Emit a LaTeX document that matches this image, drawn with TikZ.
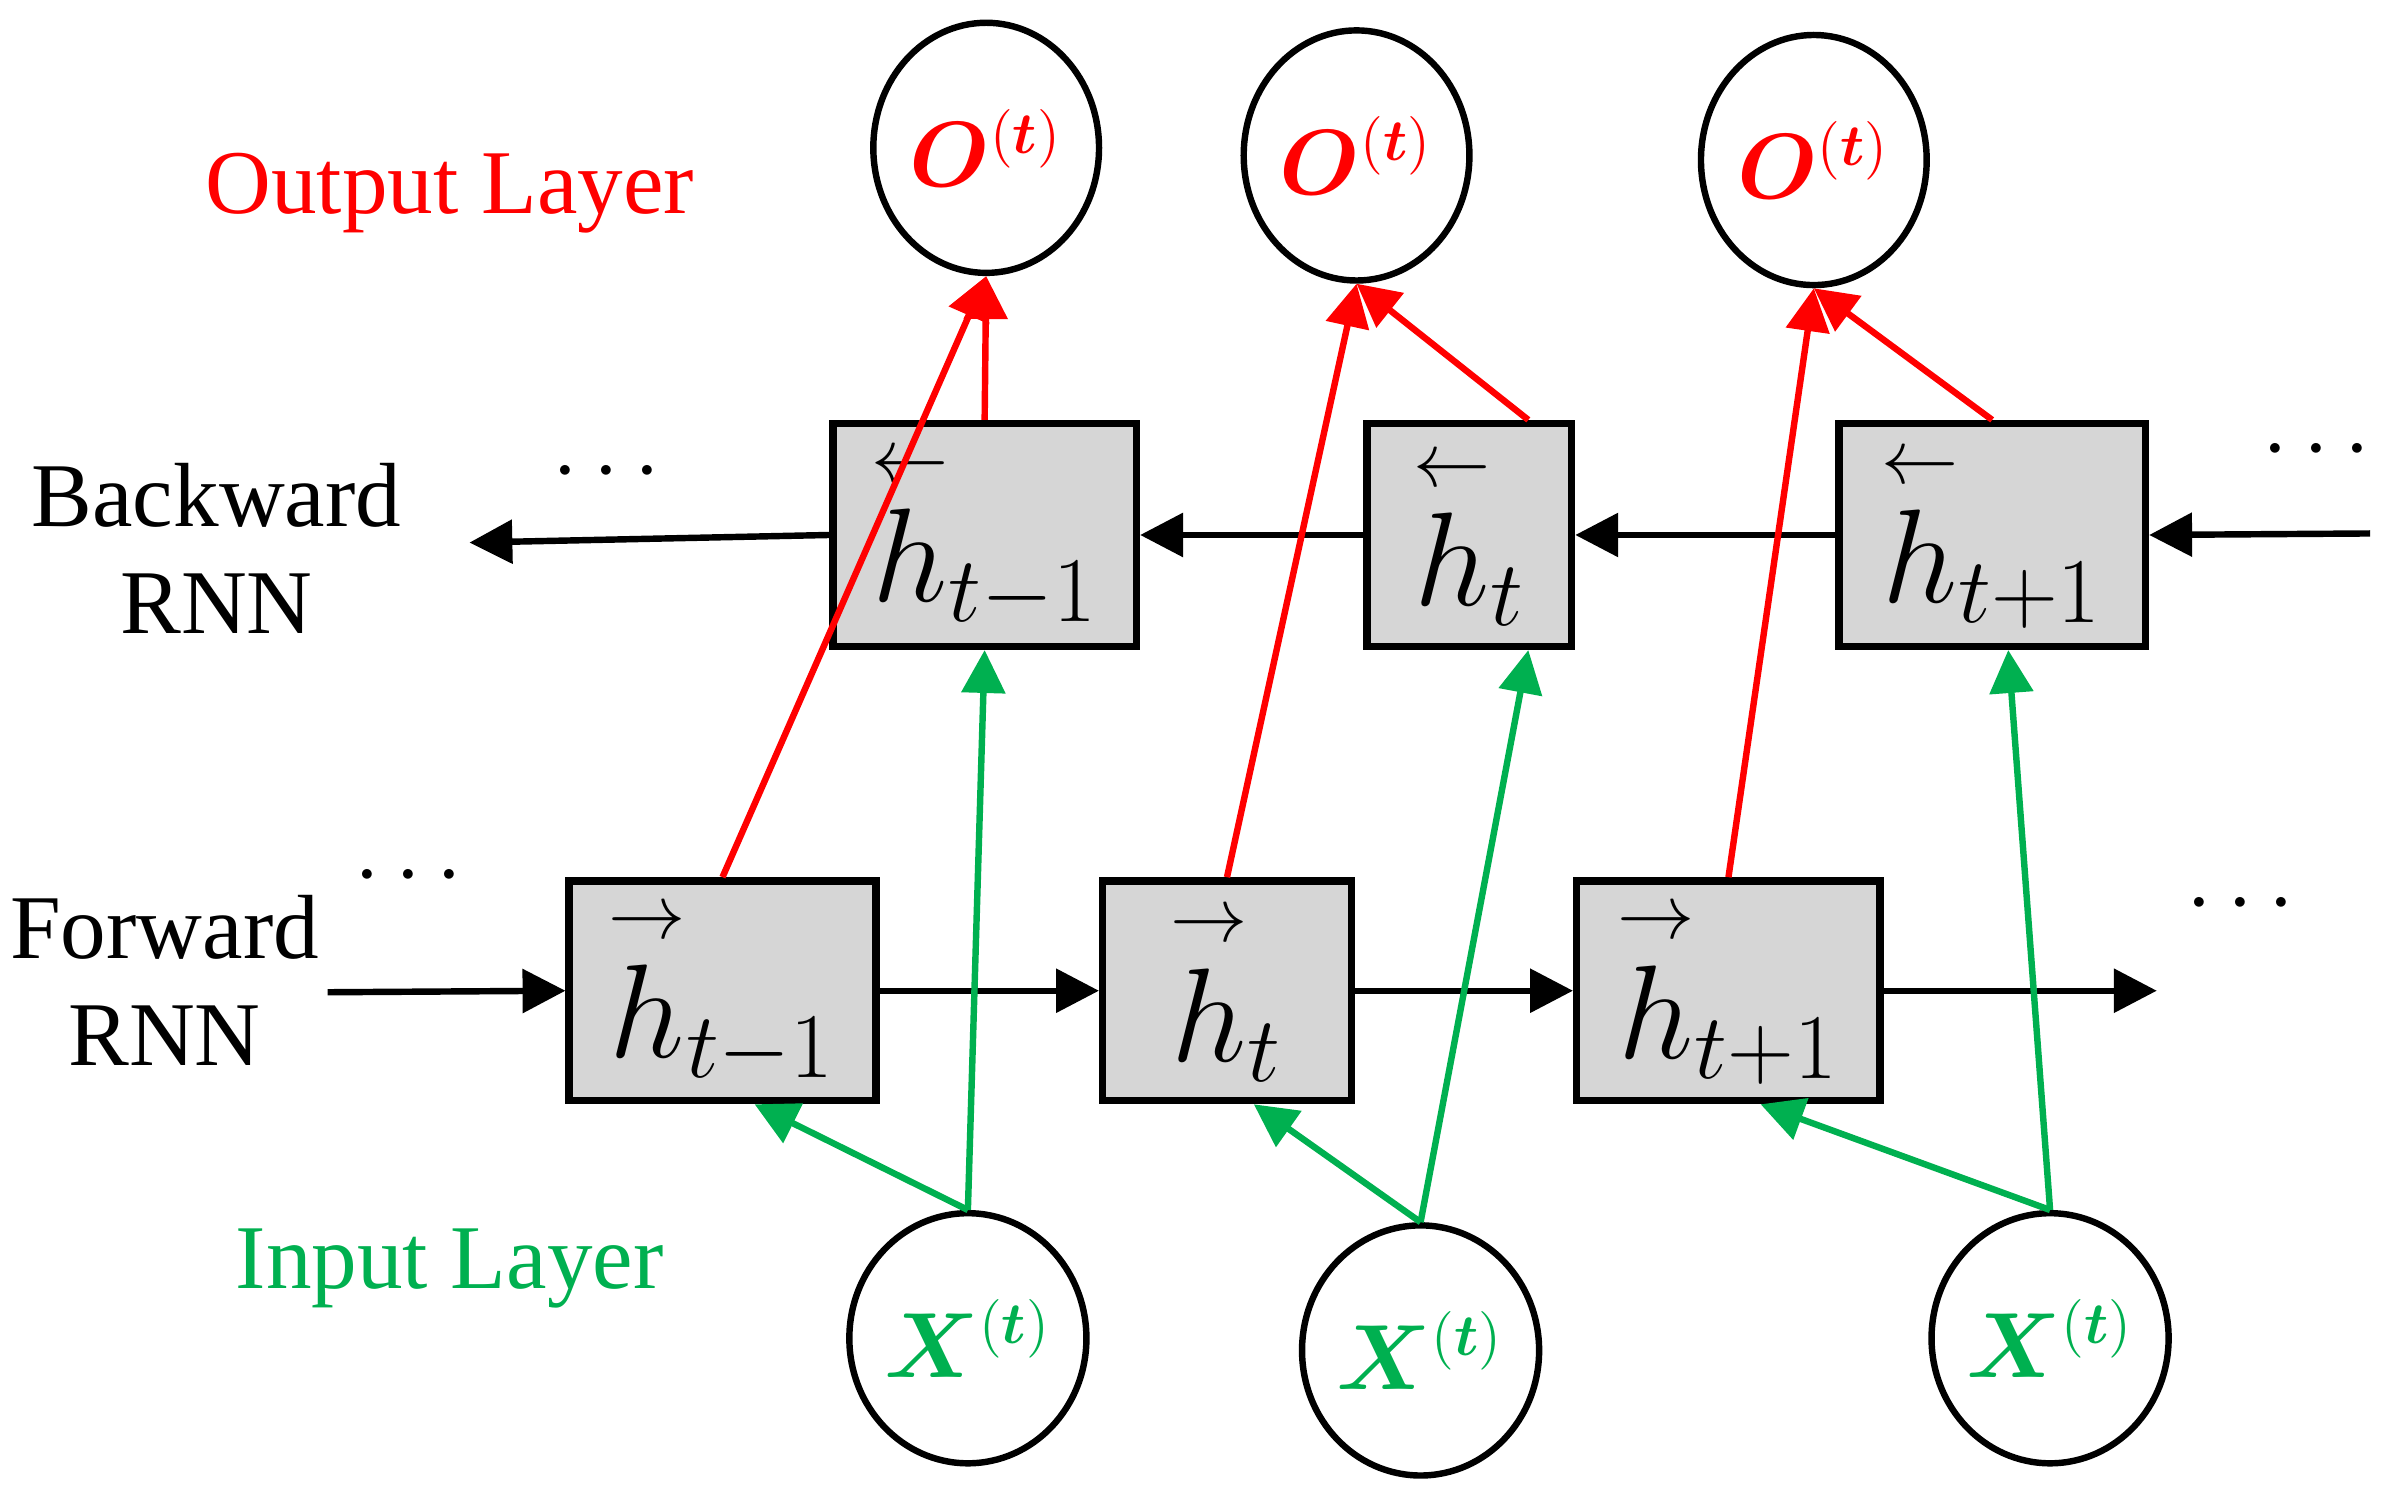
\documentclass[tikz,border=0pt]{standalone}
\usepackage{amsmath,bm}
\usepackage{fontspec}
\setmainfont{Liberation Serif}
\usetikzlibrary{arrows.meta,shapes.geometric}
\definecolor{rd}{RGB}{255,0,0}
\definecolor{gr}{RGB}{0,176,80}
\newcommand{\hl}{\overset{\scriptscriptstyle\leftarrow}{h}}
\newcommand{\hr}{\overset{\scriptscriptstyle\rightarrow}{h}}
\begin{document}
\begin{tikzpicture}[x=0.01cm,y=-0.01cm,
  box/.style={draw,line width=1.4pt,fill=black!16,inner sep=0pt,font=\fontsize{27}{30}\selectfont},
  cr/.style={draw,line width=1.2pt,ellipse,minimum width=1.48cm,minimum height=1.64cm,inner sep=0pt,font=\fontsize{16}{18}\selectfont},
  ar/.style={line width=1.2pt,-{Triangle[length=8pt,width=8pt]}},
  lab/.style={font=\fontsize{17}{20}\selectfont,align=center}]
\useasboundingbox (0,0) rectangle (1568,983);
% output circles
\node[cr] (o1) at (647,97) {$\color{rd}\bm{O}^{(\bm{t})}$};
\node[cr] (o2) at (890,102) {$\color{rd}\bm{O}^{(\bm{t})}$};
\node[cr] (o3) at (1190,105) {$\color{rd}\bm{O}^{(\bm{t})}$};
% input circles
\node[cr] (x1) at (635,878) {$\color{gr}\bm{X}^{(\bm{t})}$};
\node[cr] (x2) at (932,886) {$\color{gr}\bm{X}^{(\bm{t})}$};
\node[cr] (x3) at (1345,878) {$\color{gr}\bm{X}^{(\bm{t})}$};
% backward boxes
\node[box,minimum width=1.99cm,minimum height=1.46cm] (b1) at (646,351) {$\hl_{t-1}$};
\node[box,minimum width=1.34cm,minimum height=1.46cm] (b2) at (964,351) {$\hl_{t}$};
\node[box,minimum width=2.01cm,minimum height=1.46cm] (b3) at (1307,351) {$\hl_{t+1}$};
% forward boxes
\node[box,minimum width=2.01cm,minimum height=1.44cm] (f1) at (474,650) {$\hr_{t-1}$};
\node[box,minimum width=1.63cm,minimum height=1.44cm] (f2) at (805,650) {$\hr_{t}$};
\node[box,minimum width=1.99cm,minimum height=1.44cm] (f3) at (1134,650) {$\hr_{t+1}$};
% free ends
\coordinate (bin) at (1555,350);
\coordinate (bout) at (308,356);
\coordinate (fin) at (215,651);
\coordinate (fout) at (1415,650);
% backward chain
\draw[ar] (bin) -- (b3.east);
\draw[ar] (b3.west) -- (b2.east);
\draw[ar] (b2.west) -- (b1.east);
\draw[ar] (b1.west) -- (bout);
% forward chain
\draw[ar] (fin) -- (f1.west);
\draw[ar] (f1.east) -- (f2.west);
\draw[ar] (f2.east) -- (f3.west);
\draw[ar] (f3.east) -- (fout);
% red
\draw[ar,rd] (f1.north) -- (o1.south);
\draw[ar,rd] (b1.north) -- (o1.south);
\draw[ar,rd] (f2.north) -- (o2.south);
\draw[ar,rd] ([xshift=11]b2.north) -- (o2.south);
\draw[ar,rd] (f3.north) -- (o3.south);
\draw[ar,rd] (b3.north) -- (o3.south);
% green
\draw[ar,gr] (x1.north) -- ([xshift=6]f1.south);
\draw[ar,gr] (x1.north) -- (b1.south);
\draw[ar,gr] (x2.north) -- ([xshift=5]f2.south);
\draw[ar,gr] (x2.north) -- ([xshift=11]b2.south);
\draw[ar,gr] (x3.north) -- ([xshift=6]f3.south);
\draw[ar,gr] (x3.north) -- ([xshift=3]b3.south);
% labels
\node[lab,text=rd] (lo) at (295,127) {Output Layer};
\node[lab] (lb) at (142,360) {Backward\\RNN};
\node[lab] (lf) at (108,643) {Forward\\RNN};
\node[lab,text=gr] (li) at (295,832) {Input Layer};
\node[lab] (d1) at (403,310) {$\cdots$};
\node[lab] (d2) at (1525,296) {$\cdots$};
\node[lab] (d3) at (273,575) {$\cdots$};
\node[lab] (d4) at (1475,594) {$\cdots$};
\end{tikzpicture}
\end{document}
